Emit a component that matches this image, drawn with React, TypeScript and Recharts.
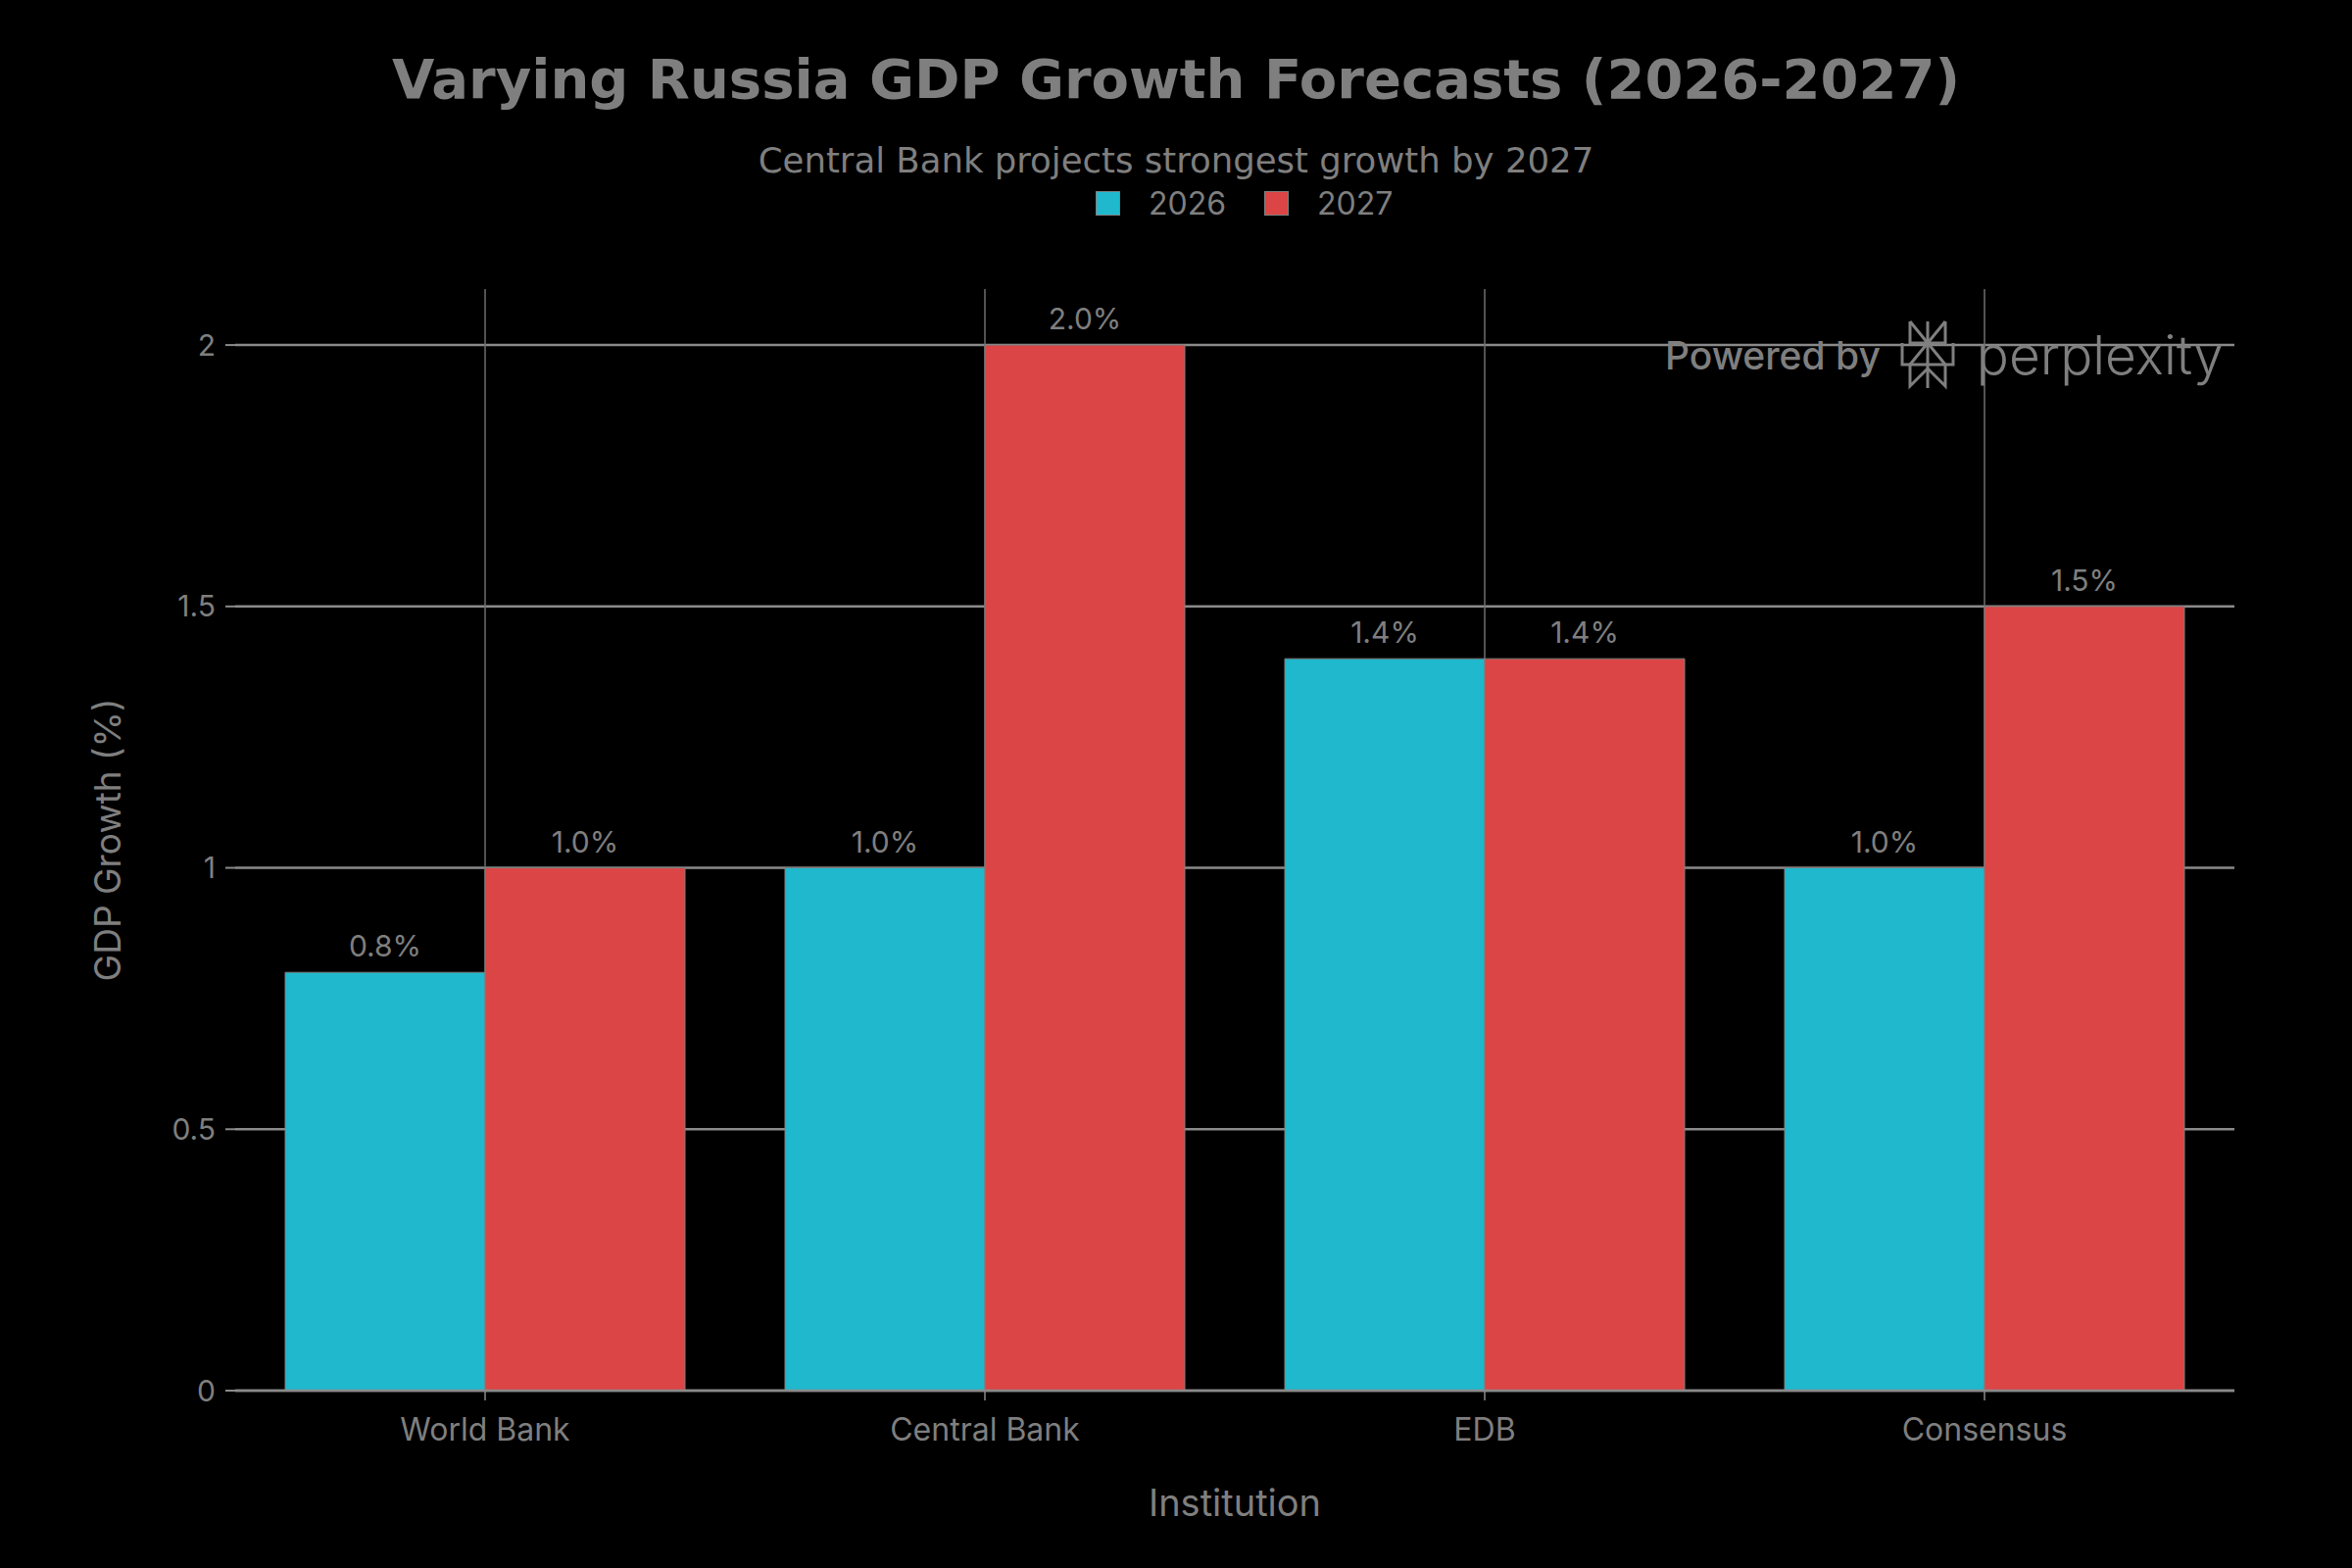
import { BarChart, Bar, XAxis, YAxis, CartesianGrid, Legend, LabelList, Label } from "recharts";

const institutions = ["World Bank", "Central Bank", "EDB", "Consensus"];
const growth2026 = [0.8, 1.0, 1.4, 1.0];
const growth2027 = [1.0, 2.0, 1.4, 1.5];
const seriesNames = ["2026", "2027"];
const yTicks = [0, 0.5, 1, 1.5, 2];

const COLORS = ["#1FB8CD", "#DB4545"];
const TEXT = "#7f7f7f";
const GRID = "#8a8a8a";
const FONT = "Inter, 'Liberation Sans', sans-serif";

const chartData = institutions.map((name, i) => ({
  name,
  y2026: growth2026[i],
  y2027: growth2027[i],
}));

const pct = (v: any) => `${Number(v).toFixed(1)}%`;

function renderLegend() {
  return (
    <div style={{ display: "flex", alignItems: "center", marginLeft: 1118, fontFamily: FONT, fontSize: 32, color: TEXT }}>
      {seriesNames.map((s, i) => (
        <div key={s} style={{ display: "flex", alignItems: "center", marginRight: 39 }}>
          <span
            style={{
              display: "inline-block",
              width: 25,
              height: 25,
              background: COLORS[i],
              border: `1px solid ${TEXT}`,
              boxSizing: "border-box",
              marginRight: 29,
            }}
          />
          <span>{s}</span>
        </div>
      ))}
    </div>
  );
}

function Watermark() {
  return (
    <div style={{ position: "absolute", left: 1699, top: 326, height: 72, display: "flex", alignItems: "center", color: TEXT }}>
      <span style={{ fontFamily: FONT, fontSize: 39, fontWeight: 500, marginRight: 18 }}>Powered by</span>
      <svg width={60} height={72} viewBox="0 0 60 72" style={{ marginRight: 20 }}>
        <g stroke={TEXT} strokeWidth={3} fill="none">
          <line x1={30} y1={2} x2={30} y2={70} />
          <polyline points="12,2 12,24 48,24 48,2" />
          <line x1={12} y1={2} x2={48} y2={46} />
          <line x1={48} y1={2} x2={12} y2={46} />
          <polyline points="4,24 4,46 56,46 56,24" />
          <polyline points="12,46 12,68 30,50 48,68 48,46" />
        </g>
      </svg>
      <span style={{ fontFamily: FONT, fontSize: 55, fontWeight: 300 }}>perplexity</span>
    </div>
  );
}

export default function App() {
  return (
    <div style={{ position: "absolute", top: 0, left: 0, width: 2400, height: 1600, background: "#000", overflow: "hidden" }}>
      <div
        style={{
          position: "absolute",
          top: 49,
          width: "100%",
          textAlign: "center",
          fontFamily: "'DejaVu Sans', sans-serif",
          fontWeight: 700,
          fontSize: 56,
          lineHeight: "64px",
          color: TEXT,
        }}
      >
        Varying Russia GDP Growth Forecasts (2026-2027)
      </div>
      <div
        style={{
          position: "absolute",
          top: 144,
          width: "100%",
          textAlign: "center",
          fontFamily: "'DejaVu Sans', sans-serif",
          fontSize: 35.5,
          lineHeight: "40px",
          color: TEXT,
        }}
      >
        Central Bank projects strongest growth by 2027
      </div>
      <BarChart
        width={2400}
        height={1600}
        data={chartData}
        margin={{ top: 295, right: 120, bottom: 41, left: 40 }}
        barCategoryGap="10%"
        barGap={0}
      >
        <CartesianGrid horizontal vertical={false} syncWithTicks stroke={GRID} strokeWidth={2.5} />
        <CartesianGrid horizontal={false} vertical syncWithTicks stroke="#6e6e6e" strokeWidth={1.5} />
        <XAxis
          dataKey="name"
          height={140}
          tickSize={10}
          tickMargin={18}
          tick={{ fill: TEXT, fontSize: 32, fontFamily: FONT }}
          axisLine={{ stroke: GRID, strokeWidth: 2.5 }}
          tickLine={{ stroke: GRID, strokeWidth: 1.5 }}
        >
          <Label value="Institution" position="insideBottom" offset={12} fill={TEXT} fontSize={38} fontFamily={FONT} />
        </XAxis>
        <YAxis
          width={200}
          domain={[0, 2.107]}
          ticks={yTicks}
          allowDataOverflow
          tickSize={10}
          tickMargin={10}
          axisLine={false}
          tickLine={{ stroke: GRID, strokeWidth: 2 }}
          tick={{ fill: TEXT, fontSize: 30, fontFamily: FONT }}
        >
          <Label
            value="GDP Growth (%)"
            angle={-90}
            position="insideLeft"
            offset={70}
            style={{ textAnchor: "middle" }}
            fill={TEXT}
            fontSize={37}
            fontFamily={FONT}
          />
        </YAxis>
        <Legend
          layout="horizontal"
          verticalAlign="middle"
          align="center"
          content={renderLegend}
          wrapperStyle={{ top: 188, left: 0, width: 2400, height: 32 }}
        />
        <Bar dataKey="y2026" name={seriesNames[0]} fill={COLORS[0]} stroke={TEXT} strokeWidth={1} isAnimationActive={false}>
          <LabelList dataKey="y2026" position="top" offset={16} formatter={pct} fill={TEXT} fontSize={30} fontFamily={FONT} />
        </Bar>
        <Bar dataKey="y2027" name={seriesNames[1]} fill={COLORS[1]} stroke={TEXT} strokeWidth={1} isAnimationActive={false}>
          <LabelList dataKey="y2027" position="top" offset={16} formatter={pct} fill={TEXT} fontSize={30} fontFamily={FONT} />
        </Bar>
      </BarChart>
      <Watermark />
    </div>
  );
}
